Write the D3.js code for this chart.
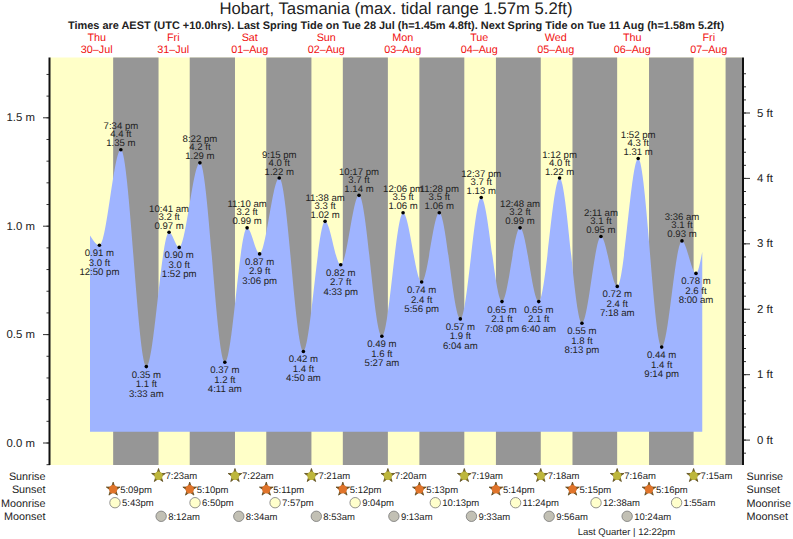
<!DOCTYPE html>
<html>
<head>
<meta charset="utf-8">
<script src="https://cdn.jsdelivr.net/npm/d3@7"></script>
<style>
  html, body { margin: 0; padding: 0; background: #fff; }
  svg { display: block; }
  text { font-family: "Liberation Sans", Arial, sans-serif; fill: #222; text-rendering: geometricPrecision; }
</style>
</head>
<body>
<svg id="chart" width="793" height="539"></svg>
<script>
// Tide turning points for Hobart, 30 Jul - 7 Aug
const tideTimes = ["2020-07-30 12:50","2020-07-30 19:34","2020-07-31 03:33","2020-07-31 10:41","2020-07-31 13:52","2020-07-31 20:22",
  "2020-08-01 04:11","2020-08-01 11:10","2020-08-01 15:06","2020-08-01 21:15","2020-08-02 04:50","2020-08-02 11:38","2020-08-02 16:33","2020-08-02 22:17",
  "2020-08-03 05:27","2020-08-03 12:06","2020-08-03 17:56","2020-08-03 23:28","2020-08-04 06:04","2020-08-04 12:37","2020-08-04 19:08",
  "2020-08-05 00:48","2020-08-05 06:40","2020-08-05 13:12","2020-08-05 20:13","2020-08-06 02:11","2020-08-06 07:18","2020-08-06 13:52","2020-08-06 21:14",
  "2020-08-07 03:36","2020-08-07 08:00"];
const tideMetres = [0.91,1.35,0.35,0.97,0.90,1.29,0.37,0.99,0.87,1.22,0.42,1.02,0.82,1.14,0.49,1.06,0.74,1.06,0.57,1.13,0.65,0.99,0.65,1.22,0.55,0.95,0.72,1.31,0.44,0.93,0.78];
const tideFeet = ["3.0","4.4","1.1","3.2","3.0","4.2","1.2","3.2","2.9","4.0","1.4","3.3","2.7","3.7","1.6","3.5","2.4","3.5","1.9","3.7","2.1","3.2","2.1","4.0","1.8","3.1","2.4","4.3","1.4","3.1","2.6"];
// The plotted water level begins and stops between turning points
const curveStart = { time: "2020-07-30 09:53", metres: 0.955 };
const curveEnd = { time: "2020-08-07 09:58", metres: 0.88 };
const waterFloor = 0.05;

const dayNames = ["Thu","Fri","Sat","Sun","Mon","Tue","Wed","Thu","Fri"];
const dayDates = ["30–Jul","31–Jul","01–Aug","02–Aug","03–Aug","04–Aug","05–Aug","06–Aug","07–Aug"];
const dayNoons = ["2020-07-30","2020-07-31","2020-08-01","2020-08-02","2020-08-03","2020-08-04","2020-08-05","2020-08-06","2020-08-07"];

const sunrises = ["2020-07-31 07:23","2020-08-01 07:22","2020-08-02 07:21","2020-08-03 07:20","2020-08-04 07:19","2020-08-05 07:18","2020-08-06 07:16","2020-08-07 07:15"];
const sunsets = ["2020-07-30 17:09","2020-07-31 17:10","2020-08-01 17:11","2020-08-02 17:12","2020-08-03 17:13","2020-08-04 17:14","2020-08-05 17:15","2020-08-06 17:16"];
const finalDusk = "2020-08-07 17:17";
const moonrises = ["2020-07-30 17:43","2020-07-31 18:50","2020-08-01 19:57","2020-08-02 21:04","2020-08-03 22:13","2020-08-04 23:24","2020-08-06 00:38","2020-08-07 01:55"];
const moonsets = ["2020-07-31 08:12","2020-08-01 08:34","2020-08-02 08:53","2020-08-03 09:13","2020-08-04 09:33","2020-08-05 09:56","2020-08-06 10:24"];
const moonPhaseTime = "2020-08-06 12:22";

const metreTicks = [0, 0.5, 1.0, 1.5];
const feetTicks = [0, 1, 2, 3, 4, 5];

const parse = d3.utcParse("%Y-%m-%d %H:%M");
const clock = t => d3.utcFormat("%-I:%M %p")(t).toLowerCase();
const rowClock = t => d3.utcFormat("%-I:%M%p")(t).toLowerCase();

const plot = { left: 50, right: 742, top: 57.5, bottom: 465 };
const x = d3.scaleUtc()
  .domain([parse("2020-07-29 21:20"), parse("2020-08-07 22:26")])
  .range([plot.left, plot.right]);
const yM = d3.scaleLinear().domain([0, 1.5]).range([442.5, 117.3]);
const yFt = d3.scaleLinear().domain([0, 5]).range([439.6, 112.5]);

const svg = d3.select("#chart");
const YELLOW = "#ffffc8", GREY = "#969696", BLUE = "#9fb4ff";

// Daylight as the backdrop, nights laid over it
svg.append("rect").attr("x", plot.left).attr("y", plot.top)
  .attr("width", plot.right - plot.left).attr("height", plot.bottom - plot.top).attr("fill", YELLOW);
const duskList = sunsets.concat([finalDusk]).map(parse);
const dawnList = sunrises.map(parse).concat([x.domain()[1]]);
svg.append("g").selectAll("rect").data(duskList).join("rect")
  .attr("x", d => x(d)).attr("y", plot.top)
  .attr("width", (d, i) => x(dawnList[i]) - x(d))
  .attr("height", plot.bottom - plot.top).attr("fill", GREY);

// Water level
const tide = tideTimes.map((t, i) => ({ time: parse(t), metres: tideMetres[i], feet: tideFeet[i] }));
tide.forEach((d, i) => {
  const prev = i ? tide[i - 1].metres : curveStart.metres;
  d.high = d.metres > prev;
});
const curvePoints = [{ time: parse(curveStart.time), metres: curveStart.metres }]
  .concat(tide, [{ time: parse(curveEnd.time), metres: curveEnd.metres }]);
const area = d3.area().x(d => x(d.time)).y0(yM(waterFloor)).y1(d => yM(d.metres)).curve(d3.curveMonotoneX);
svg.append("path").datum(curvePoints).attr("d", area).attr("fill", BLUE);

// Turning point dots and their three-line labels
const marks = svg.append("g").selectAll("g").data(tide).join("g")
  .attr("transform", d => `translate(${x(d.time)},${yM(d.metres)})`);
marks.append("circle").attr("r", 1.8).attr("fill", "#000");
const lineOffsets = { high: [-3.5, -12.5, -20.5], low: [11, 20.5, 30] };
marks.each(function (d) {
  const lines = [d3.format(".2f")(d.metres) + " m", d.feet + " ft", clock(d.time)];
  const off = d.high ? lineOffsets.high : lineOffsets.low;
  d3.select(this).selectAll("text").data(lines).join("text")
    .attr("y", (l, i) => off[i]).attr("text-anchor", "middle").attr("font-size", 9.6)
    .text(l => l);
});

// Metre axis on the left, feet axis on the right
const leftAxis = d3.axisLeft(yM).tickValues(metreTicks).tickFormat(d => d3.format(".1f")(d) + " m").tickSize(7).tickPadding(8);
const leftMinor = d3.axisLeft(yM).tickValues(d3.range(-1, 18).map(v => v / 10).filter(v => yM(v) > plot.top && yM(v) < plot.bottom)).tickFormat("").tickSize(3.5);
const rightAxis = d3.axisRight(yFt).tickValues(feetTicks).tickFormat(d => d + " ft").tickSize(8).tickPadding(7);
const rightMinor = d3.axisRight(yFt).tickValues(d3.range(-1, 29).map(v => v / 5).filter(v => yFt(v) > plot.top && yFt(v) < plot.bottom)).tickFormat("").tickSize(4);

function styleAxis(g, width) {
  g.select(".domain").remove();
  g.selectAll("line").attr("stroke", "#333").attr("stroke-width", width);
  g.selectAll("text").attr("font-size", 11.4).attr("fill", "#222");
}
svg.append("g").attr("transform", `translate(${plot.left},0)`).call(leftMinor).call(styleAxis, 1);
svg.append("g").attr("transform", `translate(${plot.left},0)`).call(leftAxis).call(styleAxis, 1);
svg.append("g").attr("transform", `translate(${plot.right},0)`).call(rightMinor).call(styleAxis, 1);
svg.append("g").attr("transform", `translate(${plot.right},0)`).call(rightAxis).call(styleAxis, 1);
[plot.left - 0.5, plot.right + 1].forEach(px => {
  svg.append("line").attr("x1", px).attr("x2", px).attr("y1", plot.top).attr("y2", plot.bottom)
    .attr("stroke", "#111").attr("stroke-width", 2);
});

// Headings
svg.append("text").attr("x", 396).attr("y", 14).attr("text-anchor", "middle").attr("font-size", 16.7)
  .text("Hobart, Tasmania (max. tidal range 1.57m 5.2ft)");
svg.append("text").attr("x", 396).attr("y", 29).attr("text-anchor", "middle").attr("font-size", 10.95).attr("font-weight", "bold").attr("fill", "#111")
  .text("Times are AEST (UTC +10.0hrs). Last Spring Tide on Tue 28 Jul (h=1.45m 4.8ft). Next Spring Tide on Tue 11 Aug (h=1.58m 5.2ft)");

// Day headers centred on noon
const dayG = svg.append("g").selectAll("g").data(dayNoons).join("g")
  .attr("transform", d => `translate(${x(parse(d + " 12:00"))},0)`);
dayG.append("text").attr("y", 41).attr("text-anchor", "middle").attr("font-size", 10.8).style("fill", "#f01010").text((d, i) => dayNames[i]);
dayG.append("text").attr("y", 53).attr("text-anchor", "middle").attr("font-size", 10.8).style("fill", "#f01010").text((d, i) => dayDates[i]);

// Sun and moon rows below the plot
const rowY = { rise: 475.7, set: 489.3, moonrise: 502.7, moonset: 516.3 };
const rowNames = [["Sunrise", rowY.rise], ["Sunset", rowY.set], ["Moonrise", rowY.moonrise], ["Moonset", rowY.moonset]];
const rowText = (sel, y) => sel.append("text").attr("x", 7).attr("y", y + 3.6).attr("font-size", 9.5).text(d => rowClock(parse(d)));

rowNames.forEach(([name, y]) => {
  svg.append("text").attr("x", 45.5).attr("y", y + 3.8).attr("text-anchor", "end").attr("font-size", 10.8).text(name);
  svg.append("text").attr("x", 746.5).attr("y", y + 3.8).attr("font-size", 10.8).text(name);
});

const star = d3.symbol().type(d3.symbolStar).size(58);
function sunRow(times, y, fill, edge) {
  const g = svg.append("g").selectAll("g").data(times).join("g").attr("transform", d => `translate(${x(parse(d))},0)`);
  g.append("path").attr("d", star).attr("transform", `translate(0,${y})`).attr("fill", edge).attr("stroke", "#5a4a1a").attr("stroke-width", 0.8).attr("stroke-linejoin", "round");
  g.append("circle").attr("cy", y).attr("r", 4.2).attr("fill", fill);
  rowText(g, y);
}
function moonRow(times, y, fill) {
  const g = svg.append("g").selectAll("g").data(times).join("g").attr("transform", d => `translate(${x(parse(d))},0)`);
  g.append("circle").attr("cy", y).attr("r", 5.2).attr("fill", fill).attr("stroke", "#777").attr("stroke-width", 0.8);
  rowText(g, y);
}
sunRow(sunrises, rowY.rise, "#bdb63c", "#8a7a24");
sunRow(sunsets, rowY.set, "#e0742a", "#a5521f");
moonRow(moonrises, rowY.moonrise, "#ffffcc");
moonRow(moonsets, rowY.moonset, "#c2c0b4");

svg.append("text").attr("x", x(parse(moonPhaseTime)) - 7).attr("y", 534.5).attr("text-anchor", "middle").attr("font-size", 9.5)
  .text("Last Quarter | " + rowClock(parse(moonPhaseTime)));
</script>
</body>
</html>
